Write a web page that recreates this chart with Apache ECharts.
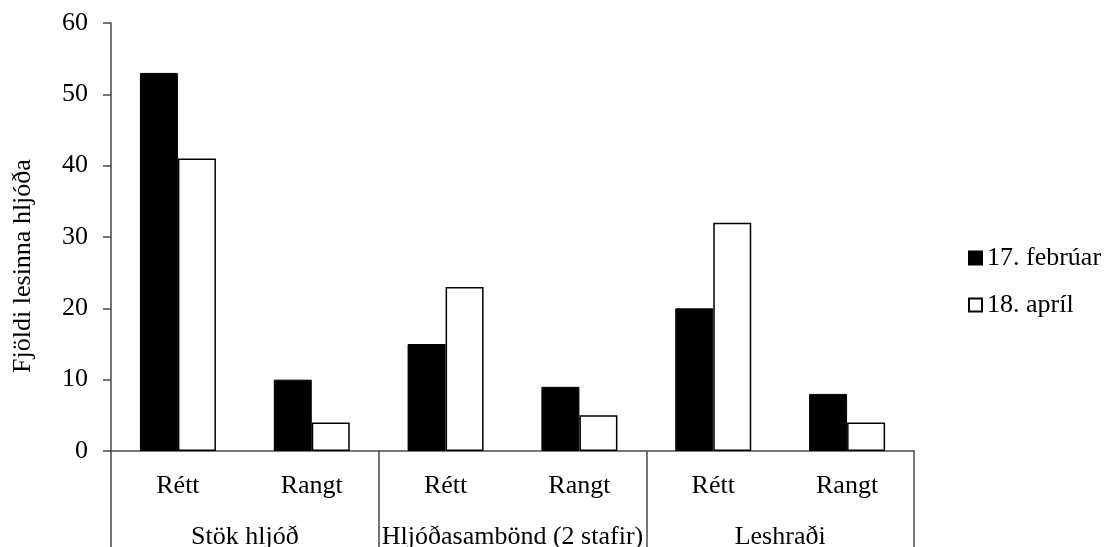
<!DOCTYPE html>
<html>
<head>
<meta charset="utf-8">
<script src="https://cdn.jsdelivr.net/npm/echarts@6/dist/echarts.min.js"></script>
<style>
  html, body { margin: 0; padding: 0; background: #fff; }
  #chart { width: 1105px; height: 547px; }
</style>
</head>
<body>
<div id="chart"></div>
<script>
// Inner categories (answer type) and the outer groups they belong to
const categories = ['Rétt', 'Rangt', 'Rétt', 'Rangt', 'Rétt', 'Rangt'];
const groups = ['Stök hljóð', 'Hljóðasambönd (2 stafir)', 'Leshraði'];

// Counts per measurement date
const seriesNames = ['17. febrúar', '18. apríl'];
const february = [53, 10, 15, 9, 20, 8];
const april = [41, 4, 23, 5, 32, 4];

const yTicks = { min: 0, max: 60, interval: 10 };
const yTitle = 'Fjöldi lesinna hljóða';

const FONT = '"Liberation Serif", "DejaVu Serif", serif';
const FS = 26;
const AXIS = '#4a4a4a';

const chart = echarts.init(document.getElementById('chart'));
chart.setOption({
  animation: false,
  backgroundColor: '#ffffff',
  textStyle: { fontFamily: FONT, color: '#000' },
  grid: { left: 111, right: 191, top: 23, bottom: 96, containLabel: false, outerBoundsMode: 'none' },
  legend: {
    orient: 'vertical',
    left: 963,
    top: 240,
    itemWidth: 13,
    itemHeight: 13,
    itemGap: 21,
    icon: 'rect',
    textStyle: { fontFamily: FONT, fontSize: FS, color: '#000' },
    data: seriesNames
  },
  xAxis: [
    {
      type: 'category',
      data: categories,
      position: 'bottom',
      axisLine: { show: true, lineStyle: { color: AXIS, width: 1.5 } },
      axisTick: { show: false },
      axisLabel: { margin: 22, fontSize: FS, fontFamily: FONT, color: '#000', interval: 0 }
    },
    {
      type: 'category',
      data: groups,
      position: 'bottom',
      gridIndex: 0,
      axisLine: { show: false },
      axisTick: { show: true, length: 97, interval: 0, lineStyle: { color: AXIS, width: 1.5 } },
      axisLabel: { margin: 73, fontSize: FS, fontFamily: FONT, color: '#000', interval: 0 }
    }
  ],
  yAxis: {
    type: 'value',
    min: yTicks.min,
    max: yTicks.max,
    interval: yTicks.interval,
    name: yTitle,
    nameLocation: 'middle',
    nameGap: 75,
    nameRotate: 90,
    nameTextStyle: { fontFamily: FONT, fontSize: FS, color: '#000', padding: [0, 58, 0, 0] },
    axisLine: { show: true, lineStyle: { color: AXIS, width: 1.5 } },
    axisTick: { show: true, length: 8, lineStyle: { color: AXIS, width: 1.5 } },
    axisLabel: { margin: 23, fontSize: FS, fontFamily: FONT, color: '#000' },
    splitLine: { show: false }
  },
  series: [
    {
      name: seriesNames[0],
      type: 'bar',
      data: february,
      barWidth: 38,
      barGap: '0%',
      itemStyle: { color: '#000', borderColor: '#000', borderWidth: 1 }
    },
    {
      name: seriesNames[1],
      type: 'bar',
      data: april,
      barWidth: 38,
      barGap: '0%',
      itemStyle: { color: '#fff', borderColor: '#000', borderWidth: 1.5 }
    }
  ]
});
</script>
</body>
</html>
